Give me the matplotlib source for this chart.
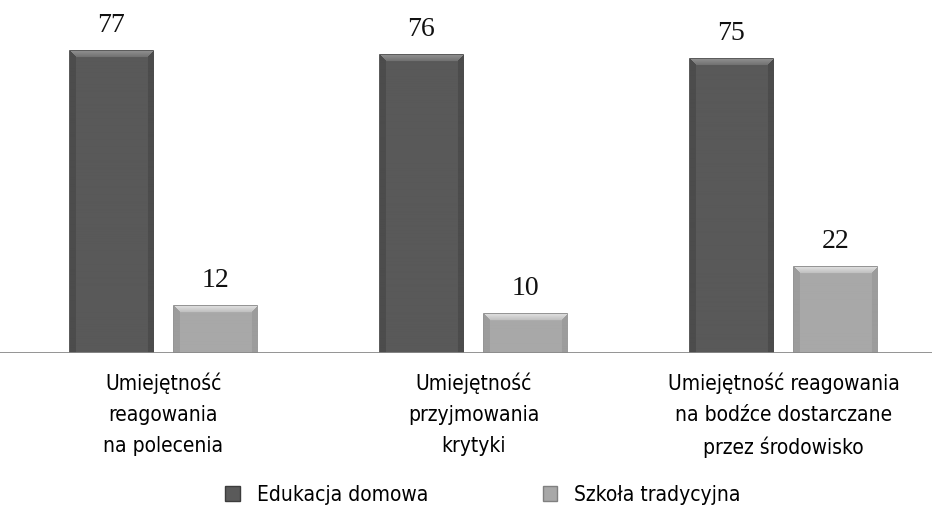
import numpy as np
import matplotlib.pyplot as plt
from matplotlib.patches import Patch

categories = [
    "Umiejętność\nreagowania\nna polecenia",
    "Umiejętność\nprzyjmowania\nkrytyki",
    "Umiejętność reagowania\nna bodźce dostarczane\nprzez środowisko",
]
edukacja_domowa = [77, 76, 75]
szkola_tradycyjna = [12, 10, 22]
series_names = ["Edukacja domowa", "Szkoła tradycyjna"]

serif = ["Liberation Serif", "DejaVu Serif"]

fig = plt.figure(figsize=(9.32, 5.18), dpi=100)
ax = fig.add_axes([0.0, 0.3185, 1.0, 0.6815])

x = np.arange(len(categories))
w = 0.268
off = 0.168
dark, light = "#5a5a5a", "#a8a8a8"


def bevel(rect, base):
    # fake the beveled look: lighter top band, slightly shaded sides
    x0, y0 = rect.get_x(), rect.get_y()
    x1, y1 = x0 + rect.get_width(), y0 + rect.get_height()
    nx = 84
    ny = max(int(rect.get_height() * 3.92), 2)
    jj, ii = np.meshgrid(np.arange(nx), np.arange(ny))
    dx = np.minimum(jj, nx - 1 - jj)
    img = np.full((ny, nx), base)
    img[dx < 6] = base - 0.05
    top = (ii < 7) & (ii <= dx)
    img[top] = base + 0.22 - ii[top] * 0.02
    img[(ii == 0)] = base + 0.08
    img = np.clip(img, 0, 1)
    im = ax.imshow(img, cmap="gray", vmin=0, vmax=1, extent=[x0, x1, y0, y1],
                   aspect="auto", origin="upper", zorder=2.2, interpolation="bilinear")
    im.set_clip_path(rect)


b1 = ax.bar(x - off, edukacja_domowa, w, color=dark, edgecolor="#3c3c3c", linewidth=1.2, zorder=2)
b2 = ax.bar(x + off, szkola_tradycyjna, w, color=light, edgecolor="#808080", linewidth=1.2, zorder=2)
for r in b1:
    bevel(r, 0.35)
for r in b2:
    bevel(r, 0.66)

for bars, vals in ((b1, edukacja_domowa), (b2, szkola_tradycyjna)):
    for r, v in zip(bars, vals):
        ax.text(r.get_x() + r.get_width() / 2, v + 3.3, str(v), ha="center", va="bottom",
                fontsize=20, family=serif, color="#111111")

ax.set_xlim(-0.527, 2.479)
ax.set_ylim(0, 90)
ax.axhline(0, color="#8a8a8a", linewidth=2, zorder=3)
for s in ax.spines.values():
    s.set_visible(False)
ax.set_yticks([])
ax.set_xticks(x)
ax.set_xticklabels(categories, family="DejaVu Sans", stretch="condensed", fontsize=15, linespacing=1.68)
ax.tick_params(axis="x", length=0, pad=14)

handles = [Patch(facecolor=dark, edgecolor="#3c3c3c"), Patch(facecolor=light, edgecolor="#808080")]
fig.legend(handles, series_names, loc="center", bbox_to_anchor=(0.518, 0.045), ncol=2,
           frameon=False, prop={"family": "DejaVu Sans", "stretch": "condensed", "size": 15},
           handlelength=0.7, handleheight=0.7, columnspacing=5.5, handletextpad=0.8)

fig.savefig("out.png", dpi=100)
